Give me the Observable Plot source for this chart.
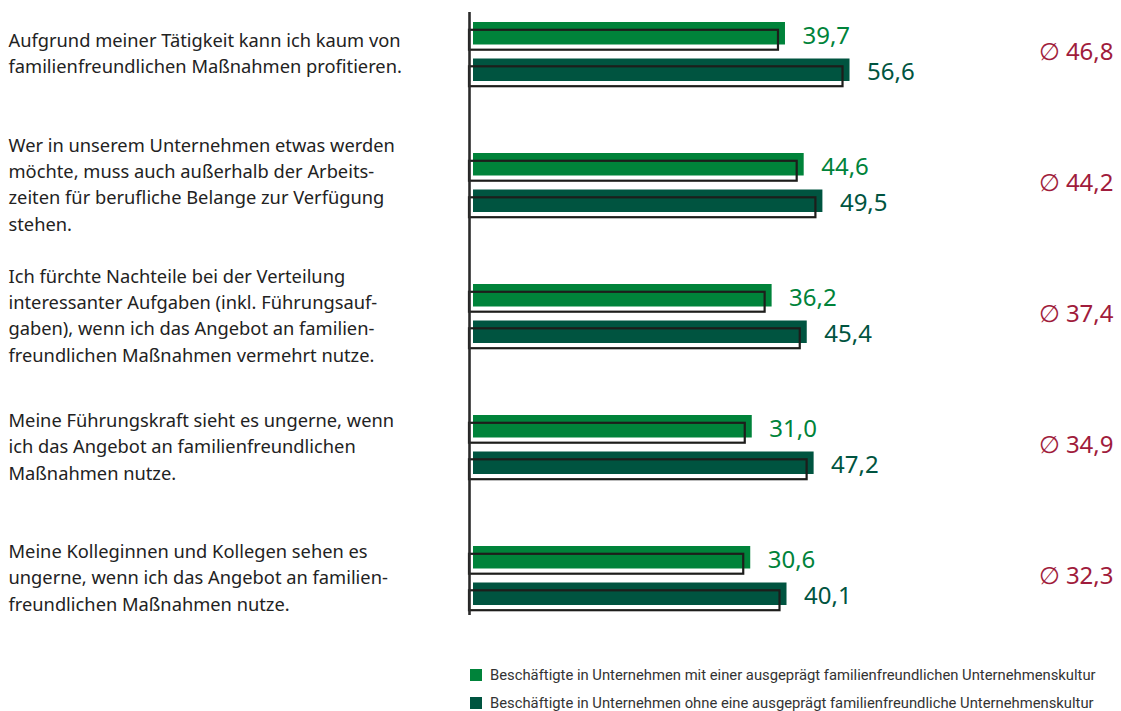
<!DOCTYPE html>
<html>
<head>
<meta charset="utf-8">
<script src="https://cdn.jsdelivr.net/npm/d3@7"></script>
<script src="https://cdn.jsdelivr.net/npm/@observablehq/plot@0.6"></script>
<style>
  html, body { margin: 0; padding: 0; background: #fff; }
  #chart svg { display: block; }
  .legend { margin-left: 470px; padding-top: 11px; font-family: Roboto, sans-serif; font-size: 14.8px; color: #333; }
  .legend .row { height: 28px; display: flex; align-items: center; }
  .legend .sw { width: 12px; height: 12px; margin-right: 8px; flex: none; }
</style>
</head>
<body>
<div id="chart"></div>
<script>
const questions = [
  "Aufgrund meiner Tätigkeit kann ich kaum von\nfamilienfreundlichen Maßnahmen profitieren.",
  "Wer in unserem Unternehmen etwas werden\nmöchte, muss auch außerhalb der Arbeits-\nzeiten für berufliche Belange zur Verfügung\nstehen.",
  "Ich fürchte Nachteile bei der Verteilung\ninteressanter Aufgaben (inkl. Führungsauf-\ngaben), wenn ich das Angebot an familien-\nfreundlichen Maßnahmen vermehrt nutze.",
  "Meine Führungskraft sieht es ungerne, wenn\nich das Angebot an familienfreundlichen\nMaßnahmen nutze.",
  "Meine Kolleginnen und Kollegen sehen es\nungerne, wenn ich das Angebot an familien-\nfreundlichen Maßnahmen nutze."
];
const withCulture = [39.7, 44.6, 36.2, 31.0, 30.6];
const withoutCulture = [56.6, 49.5, 45.4, 47.2, 40.1];
const average = [46.8, 44.2, 37.4, 34.9, 32.3];
const seriesLabels = [
  "Beschäftigte in Unternehmen mit einer ausgeprägt familienfreundlichen Unternehmenskultur",
  "Beschäftigte in Unternehmen ohne eine ausgeprägt familienfreundliche Unternehmenskultur"
];
const colors = ["#00833a", "#005440"];
const avgColor = "#a01c3c";
const base = -42;

const table = questions.map((q, i) => ({q, a: withCulture[i], b: withoutCulture[i], m: average[i]}));
const fmt = v => v.toFixed(1).replace(".", ",");

const fill = (key, color, top) => Plot.rectX(table, {
  y: "q", x1: () => base, x2: key, fill: color,
  insetTop: top ? 0 : 36.5, insetBottom: top ? 36.5 : 0
});
const outline = (key, top) => Plot.rectX(table, {
  y: "q", x1: () => base, x2: key, fill: "none", stroke: "#1d1d1b", strokeWidth: 2.2,
  dx: -4, dy: 6.5, insetRight: 3,
  insetTop: top ? 1.3 : 37.8, insetBottom: top ? 37.8 : 1.3
});

const chart = Plot.plot({
  width: 1121,
  height: 650,
  marginLeft: 473,
  marginRight: 8,
  marginTop: 12,
  marginBottom: 35,
  x: {domain: [base, 125.6], axis: null},
  y: {domain: questions, axis: null, paddingInner: 0.549, paddingOuter: 0.075},
  style: {fontFamily: "'Noto Sans', sans-serif", background: "#fff"},
  marks: [
    fill("a", colors[0], true),
    fill("b", colors[1], false),
    outline("a", true),
    outline("b", false),
    Plot.ruleX([base], {dx: -4, stroke: "#2b2b2b", strokeWidth: 2.6}),
    Plot.text(table, {y: "q", x: "a", text: d => fmt(d.a), dx: 17, dy: -16, textAnchor: "start", fill: colors[0], fontSize: 24}),
    Plot.text(table, {y: "q", x: "b", text: d => fmt(d.b), dx: 17, dy: 20.5, textAnchor: "start", fill: colors[1], fontSize: 24}),
    Plot.text(table, {y: "q", text: d => "∅ " + fmt(d.m), frameAnchor: "right", textAnchor: "end", fill: avgColor, fontSize: 24}),
    Plot.text(table, {y: "q", text: "q", frameAnchor: "left", textAnchor: "start", dx: -465, dy: 0, lineAnchor: "middle", lineHeight: 1.43, fill: "#222", fontSize: 18.3})
  ]
});
document.getElementById("chart").appendChild(chart);

const legend = document.createElement("div");
legend.className = "legend";
seriesLabels.forEach((s, i) => {
  const row = document.createElement("div");
  row.className = "row";
  const sw = document.createElement("span");
  sw.className = "sw";
  sw.style.background = colors[i];
  const t = document.createElement("span");
  t.textContent = s;
  row.appendChild(sw);
  row.appendChild(t);
  legend.appendChild(row);
});
document.body.appendChild(legend);
</script>
</body>
</html>
